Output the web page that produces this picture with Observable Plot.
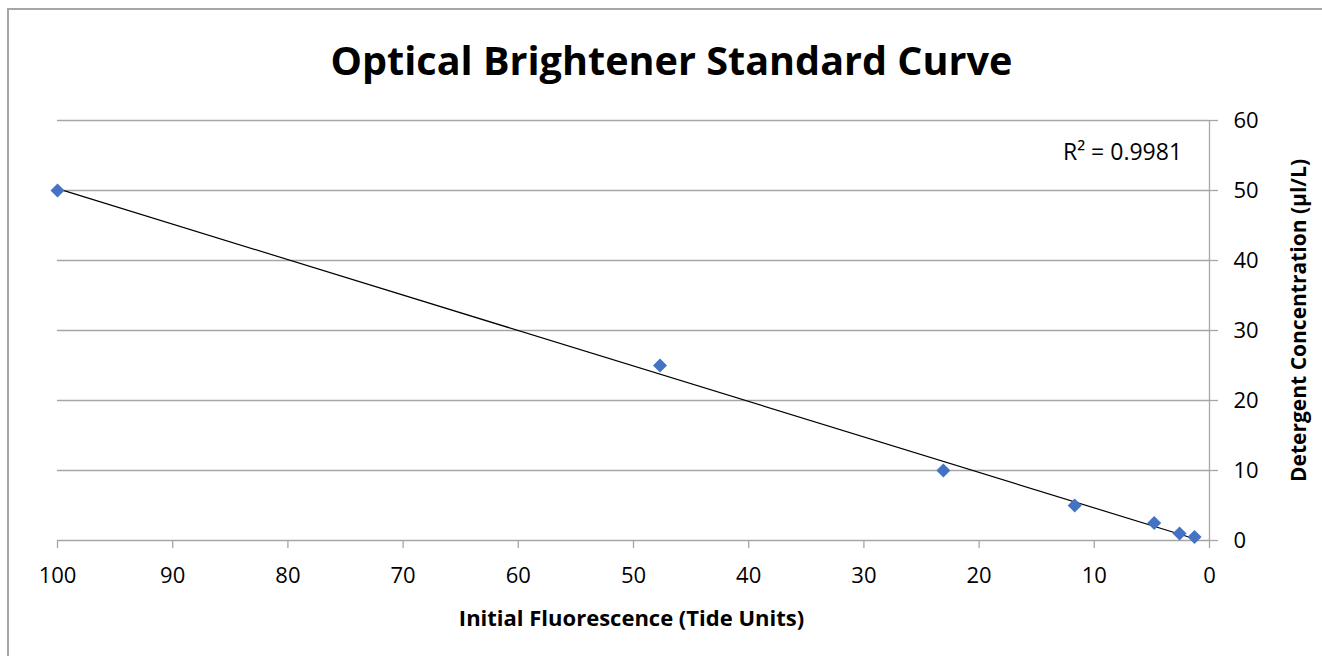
<!DOCTYPE html>
<html>
<head>
<meta charset="utf-8">
<script src="https://cdn.jsdelivr.net/npm/d3@7"></script>
<script src="https://cdn.jsdelivr.net/npm/@observablehq/plot@0.6"></script>
<style>
  html, body { margin: 0; padding: 0; background: #fff; }
  #wrap { position: relative; width: 1322px; height: 656px; overflow: hidden; }
  #border { position: absolute; left: 7px; top: 8px; width: 1400px; height: 700px; border-top: 2px solid #a6a6a6; border-left: 2px solid #a6a6a6; }
  #chart { position: absolute; left: 0; top: 0; }
</style>
</head>
<body>
<div id="wrap"><div id="border"></div><div id="chart"></div></div>
<script>
const fluorescence = [100, 47.7, 23.1, 11.7, 4.8, 2.6, 1.3];
const concentration = [50, 25, 10, 5, 2.5, 1, 0.5];
const xTicks = [100, 90, 80, 70, 60, 50, 40, 30, 20, 10, 0];
const yTicks = [0, 10, 20, 30, 40, 50, 60];
const titleText = "Optical Brightener Standard Curve";
const xTitle = "Initial Fluorescence (Tide Units)";
const yTitle = "Detergent Concentration (µl/L)";
const r2Text = "R² = 0.9981";

const data = fluorescence.map((x, i) => ({x, y: concentration[i]}));
const font = "'Open Sans', Roboto, sans-serif";
const gray = "#a6a6a6";

const chart = Plot.plot({
  width: 1322,
  height: 656,
  marginLeft: 57,
  marginRight: 113,
  marginTop: 120,
  marginBottom: 116,
  style: {fontFamily: font, background: "transparent", color: "black"},
  x: {domain: [100, 0], ticks: xTicks, label: null},
  y: {domain: [0, 60], ticks: yTicks, label: null},
  marks: [
    Plot.gridY(yTicks, {stroke: gray, strokeOpacity: 1, strokeWidth: 1.3}),
    Plot.ruleX([0], {y1: 0, y2: 60, stroke: gray, strokeWidth: 1.3}),
    Plot.axisX(xTicks, {tickSize: 8, tickPadding: 19, fontSize: 22, stroke: gray, strokeWidth: 1.3, fill: "black", label: null}),
    Plot.axisY(yTicks, {anchor: "right", tickSize: 8, tickPadding: 16, fontSize: 22, stroke: gray, strokeWidth: 1.3, fill: "black", textAnchor: "start", label: null}),
    Plot.linearRegressionY(data, {x: "x", y: "y", ci: 0, stroke: "black", strokeWidth: 1.2}),
    Plot.dot(data, {x: "x", y: "y", symbol: "square", rotate: 45, r: 5.6, fill: "#4472C4", stroke: null}),
    Plot.text([titleText], {frameAnchor: "top", textAnchor: "middle", dx: 38, dy: -58, fontSize: 39.6, fontWeight: "bold", fill: "black", lineAnchor: "middle"}),
    Plot.text([xTitle], {frameAnchor: "bottom", textAnchor: "middle", dx: -2, dy: 78, fontSize: 22, fontWeight: "bold", fill: "black", lineAnchor: "middle"}),
    Plot.text([yTitle], {frameAnchor: "right", textAnchor: "middle", dx: 90, dy: -10, rotate: -90, fontSize: 21, fontWeight: "bold", fill: "black", lineAnchor: "middle"}),
    Plot.text([r2Text], {frameAnchor: "top-right", textAnchor: "middle", dx: -87, dy: 32, fontSize: 23, fill: "black", lineAnchor: "middle"})
  ]
});
document.getElementById("chart").appendChild(chart);
</script>
</body>
</html>
